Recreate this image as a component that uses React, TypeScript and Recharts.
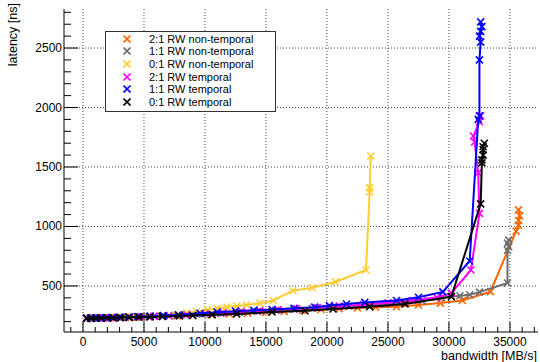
import { ScatterChart, Scatter, XAxis, YAxis, CartesianGrid, Legend } from 'recharts';

type Pt = [number, number];

// [bandwidth MB/s, latency ns]
const nt21: Pt[] = [
  [300, 229], [800, 230], [1400, 231], [2000, 232], [2700, 233], [3500, 235], [4400, 237],
  [5400, 240], [6500, 243], [7700, 247], [9000, 252], [10500, 258], [12000, 264], [13500, 271],
  [15000, 278], [16500, 286], [18000, 294], [19500, 302], [21000, 309], [22500, 316], [24000, 321],
  [25700, 326], [27500, 340], [29300, 356], [31100, 378], [33400, 452], [35500, 960], [35700, 1010],
  [35700, 1050], [35800, 1090], [35700, 1140],
];
const nt11: Pt[] = [
  [300, 230], [800, 231], [1400, 232], [2100, 233], [2900, 235], [3800, 237], [4800, 240],
  [5900, 244], [7100, 249], [8400, 255], [9800, 262], [11300, 270], [12800, 278], [14300, 286],
  [15800, 295], [17300, 304], [18800, 313], [20300, 322], [21800, 331], [23300, 340], [24800, 350],
  [26300, 362], [27800, 375], [29400, 400], [30900, 418], [31700, 426], [32500, 448], [34800, 525],
  [34800, 800], [34900, 830], [34800, 860], [34900, 885],
];
const nt01: Pt[] = [
  [300, 230], [800, 231], [1500, 232], [2200, 233], [3000, 235], [3800, 237], [4600, 240],
  [5500, 244], [6500, 250], [7500, 258], [8500, 272], [9300, 285], [10200, 298], [11000, 310],
  [11800, 322], [12600, 331], [13400, 340], [14500, 355], [15600, 378], [17200, 460], [18800, 485],
  [20700, 535], [23200, 634], [23500, 1290], [23500, 1325], [23600, 1592],
];
const t21: Pt[] = [
  [300, 230], [700, 231], [1200, 232], [1700, 233], [2300, 234], [3000, 236], [3800, 238],
  [4700, 241], [5800, 245], [7000, 250], [8500, 257], [10000, 266], [11500, 275], [13000, 284],
  [14500, 293], [16000, 301], [17500, 310], [19200, 318], [21000, 330], [23000, 343], [25000, 358],
  [27000, 378], [29000, 405], [30200, 440], [31800, 634], [32500, 1110], [32400, 1450], [32100, 1710],
  [32000, 1760], [32500, 1880], [32600, 1930],
];
const t11: Pt[] = [
  [300, 229], [600, 230], [1000, 231], [1400, 232], [1900, 233], [2400, 235], [3000, 237],
  [3700, 239], [4500, 242], [5500, 246], [6600, 251], [7800, 257], [9600, 270], [11000, 280],
  [12500, 288], [14000, 295], [15500, 302], [17300, 312], [19000, 322], [20200, 335], [21600, 348],
  [23100, 362], [25700, 378], [27500, 405], [29500, 450], [31700, 710], [32400, 1900], [32500, 1930],
  [32500, 2400], [32600, 2550], [32500, 2600], [32600, 2640], [32700, 2680], [32600, 2720],
];
const t01: Pt[] = [
  [300, 228], [700, 229], [1100, 230], [1500, 230], [2000, 231], [2500, 232], [3100, 234],
  [3800, 236], [4600, 238], [5500, 240], [6500, 244], [7900, 248], [9000, 252], [10600, 259],
  [12600, 265], [15500, 281], [18200, 292], [20500, 306], [23500, 326], [26400, 349], [30200, 410],
  [32600, 1190], [32700, 1535], [32700, 1560], [32800, 1600], [32800, 1645], [32800, 1670], [32900, 1700],
];

const series = [
  { name: '2:1 RW non-temporal', color: '#ff6600', pts: nt21 },
  { name: '1:1 RW non-temporal', color: '#6e6e6e', pts: nt11 },
  { name: '0:1 RW non-temporal', color: '#ffcc33', pts: nt01 },
  { name: '2:1 RW temporal', color: '#ff00ff', pts: t21 },
  { name: '1:1 RW temporal', color: '#0000ff', pts: t11 },
  { name: '0:1 RW temporal', color: '#000000', pts: t01 },
];

const xTicks = [
  -1000, 0, 1000, 2000, 3000, 4000, 5000, 6000, 7000, 8000, 9000, 10000, 11000, 12000, 13000,
  14000, 15000, 16000, 17000, 18000, 19000, 20000, 21000, 22000, 23000, 24000, 25000, 26000,
  27000, 28000, 29000, 30000, 31000, 32000, 33000, 34000, 35000, 36000, 37000,
];
const xMajor = [0, 5000, 10000, 15000, 20000, 25000, 30000, 35000];
const yTicks = [
  200, 300, 400, 500, 600, 700, 800, 900, 1000, 1100, 1200, 1300, 1400, 1500, 1600, 1700, 1800,
  1900, 2000, 2100, 2200, 2300, 2400, 2500, 2600, 2700, 2800,
];
const yMajor = [500, 1000, 1500, 2000, 2500];

const font = '"Liberation Sans", Arial, Helvetica, sans-serif';

function BottomTick({ x, y, payload }: any) {
  const major = xMajor.includes(payload.value);
  return (
    <g>
      <line x1={x} x2={x} y1={y} y2={y - (major ? 10 : 5)} stroke="#000" />
      {major && (
        <text x={x} y={y + 13.5} textAnchor="middle" fontSize={12} fontFamily={font} fill="#000">
          {payload.value}
        </text>
      )}
    </g>
  );
}
function TopTick({ x, y, payload }: any) {
  const major = xMajor.includes(payload.value);
  return <line x1={x} x2={x} y1={y} y2={y + (major ? 10 : 5)} stroke="#000" />;
}
function LeftTick({ x, y, payload }: any) {
  const major = yMajor.includes(payload.value);
  return (
    <g>
      <line x1={x} x2={x + (major ? 14 : 7)} y1={y} y2={y} stroke="#000" />
      {major && (
        <text x={x - 2} y={y + 4} textAnchor="end" fontSize={12} fontFamily={font} fill="#000">
          {payload.value}
        </text>
      )}
    </g>
  );
}
function RightTick({ x, y, payload }: any) {
  const major = yMajor.includes(payload.value);
  return <line x1={x} x2={x - (major ? 14 : 7)} y1={y} y2={y} stroke="#000" />;
}

const cross = (color: string) => (props: any) => {
  const { cx, cy } = props;
  const r = 3.5;
  return (
    <path
      d={`M${cx - r},${cy - r}L${cx + r},${cy + r}M${cx - r},${cy + r}L${cx + r},${cy - r}`}
      stroke={color}
      strokeWidth={1.6}
      fill="none"
    />
  );
};

function LegendBox() {
  return (
    <div
      style={{
        position: 'relative', width: 171, height: 81, border: '1px solid #333', boxSizing: 'border-box',
        background: '#fff', fontFamily: font, fontSize: 11, color: '#000',
      }}
    >
      {series.map((s, i) => (
        <div
          key={s.name}
          style={{ position: 'absolute', left: 0, top: 0.5 + i * 12.7, height: 12, display: 'flex', alignItems: 'center', whiteSpace: 'nowrap' }}
        >
          <svg width={8} height={8} style={{ marginLeft: 17 }}>
            <path d="M0.5,0.5L7.5,7.5M0.5,7.5L7.5,0.5" stroke={s.color} strokeWidth={1.6} />
          </svg>
          <span style={{ marginLeft: 18, lineHeight: '12px' }}>{s.name}</span>
        </div>
      ))}
    </div>
  );
}

export default function App() {
  return (
    <div style={{ position: 'absolute', left: 0, top: 0, background: '#fff' }}>
      <ScatterChart width={540} height={362} margin={{ top: 9, right: 2, bottom: 0, left: 0 }}>
        <CartesianGrid
          horizontalValues={yMajor}
          verticalValues={xMajor}
          stroke="#444"
          strokeDasharray="1 2"
        />
        <XAxis
          type="number"
          dataKey="bw"
          domain={[-1557, 37300]}
          allowDataOverflow
          ticks={xTicks}
          interval={0}
          tickSize={0}
          tickMargin={0}
          tick={<BottomTick />}
          height={30}
          axisLine={{ stroke: '#000' }}
          tickLine={false}
          label={{
            content: (p: any) => (
              <text
                x={p.viewBox.x + p.viewBox.width - 1}
                y={p.viewBox.y + 27.5}
                textAnchor="end"
                fontSize={12.5}
                fontFamily={font}
                fill="#000"
              >
                bandwidth [MB/s]
              </text>
            ),
          }}
        />
        <XAxis
          xAxisId="top"
          orientation="top"
          type="number"
          domain={[-1557, 37300]}
          allowDataOverflow
          ticks={xTicks}
          interval={0}
          tickSize={0}
          tickMargin={0}
          tick={<TopTick />}
          height={0}
          axisLine={{ stroke: '#000' }}
          tickLine={false}
        />
        <YAxis
          type="number"
          dataKey="lat"
          domain={[113, 2828]}
          allowDataOverflow
          ticks={yTicks}
          interval={0}
          tickSize={0}
          tickMargin={0}
          tick={<LeftTick />}
          width={64}
          axisLine={{ stroke: '#000' }}
          tickLine={false}
          label={{
            content: (p: any) => (
              <text
                x={p.viewBox.x + 17}
                y={p.viewBox.y - 6}
                textAnchor="end"
                fontSize={12.5}
                fontFamily={font}
                fill="#000"
                transform={`rotate(-90, ${p.viewBox.x + 17}, ${p.viewBox.y - 6})`}
              >
                latency [ns]
              </text>
            ),
          }}
        />
        <YAxis
          yAxisId="right"
          orientation="right"
          type="number"
          domain={[113, 2828]}
          allowDataOverflow
          ticks={yTicks}
          interval={0}
          tickSize={0}
          tickMargin={0}
          tick={<RightTick />}
          width={0}
          axisLine={{ stroke: '#000' }}
          tickLine={false}
        />
        <Legend
          layout="vertical"
          align="center"
          verticalAlign="middle"
          wrapperStyle={{ left: 105, top: 31, width: 171, height: 81 }}
          content={() => <LegendBox />}
        />
        {series.map((s) => (
          <Scatter
            key={s.name}
            name={s.name}
            data={s.pts.map(([bw, lat]) => ({ bw, lat }))}
            line={{ stroke: s.color, strokeWidth: 2 }}
            lineJointType="linear"
            shape={cross(s.color)}
            isAnimationActive={false}
          />
        ))}
      </ScatterChart>
    </div>
  );
}
